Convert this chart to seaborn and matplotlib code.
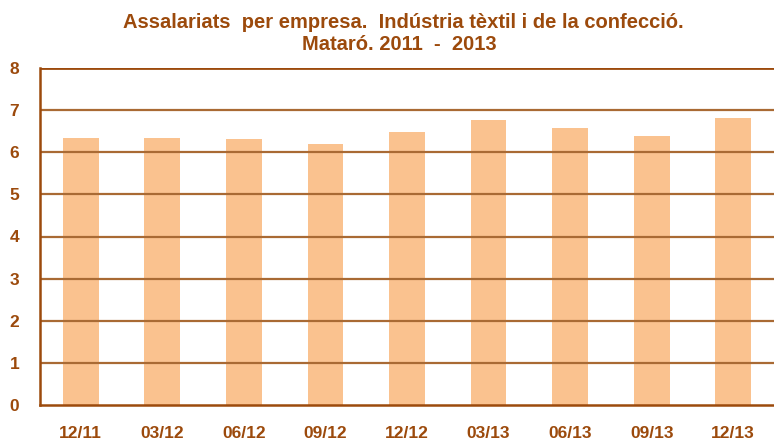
import matplotlib
matplotlib.use("Agg")
import matplotlib.pyplot as plt
import seaborn as sns
import pandas as pd

categories = ["12/11", "03/12", "06/12", "09/12", "12/12", "03/13", "06/13", "09/13", "12/13"]
values = [6.34, 6.34, 6.32, 6.20, 6.47, 6.77, 6.58, 6.39, 6.82]
yticks = [0, 1, 2, 3, 4, 5, 6, 7, 8]

sns.set_style("white")
plt.rcParams['font.family'] = ['Liberation Sans', 'DejaVu Sans']

brown = "#9C4A0C"
grid = "#A96A34"
bar_color = "#FAC28F"

df = pd.DataFrame({"cat": categories, "val": values})

fig = plt.figure(figsize=(7.74, 4.41), dpi=100)
W, H = 774, 441
left, right, top, bottom = 40, 774, 68, 405
ax = fig.add_axes([left / W, 1 - bottom / H, (right - left) / W, (bottom - top) / H])

sns.barplot(data=df, x="cat", y="val", color=bar_color, width=0.44, saturation=1,
            linewidth=0, ax=ax, zorder=1)

ax.set_ylim(0, 8)
ax.set_xlim(-0.5, -0.5 + (right - left) / 82.7)
ax.set_yticks(yticks)
for y in yticks[1:]:
    ax.axhline(y, color=grid if y < 8 else brown, lw=1.6 if y < 8 else 2.0, zorder=3)

ax.set_xticks(range(len(categories)))
ax.set_xticklabels(categories)
ax.set_xticks([i - 0.5 for i in range(len(categories) + 1)], minor=True)
ax.tick_params(axis="x", which="major", length=0, pad=15, labelsize=12.5, labelcolor=brown)
ax.tick_params(axis="x", which="minor", length=5, width=1.2, color=brown, direction="out")
ax.tick_params(axis="y", length=7, width=1.2, color=brown, direction="out", labelsize=12.5, labelcolor=brown, pad=8)
for lab in ax.get_xticklabels() + ax.get_yticklabels():
    lab.set_fontweight("bold")

for s in ["top", "right"]:
    ax.spines[s].set_visible(False)
for s in ["left", "bottom"]:
    ax.spines[s].set_color(brown)
    ax.spines[s].set_linewidth(1.8)
    ax.spines[s].set_zorder(4)

ax.set_xlabel("")
ax.set_ylabel("")

fig.text(403 / W, 1 - 22 / H, "Assalariats  per empresa.  Indústria tèxtil i de la confecció.",
         ha="center", va="center", fontsize=14.5, fontweight="bold", color=brown)
fig.text(399 / W, 1 - 45 / H, "Mataró. 2011  -  2013",
         ha="center", va="center", fontsize=14.5, fontweight="bold", color=brown)

fig.savefig("out.png", dpi=100)
